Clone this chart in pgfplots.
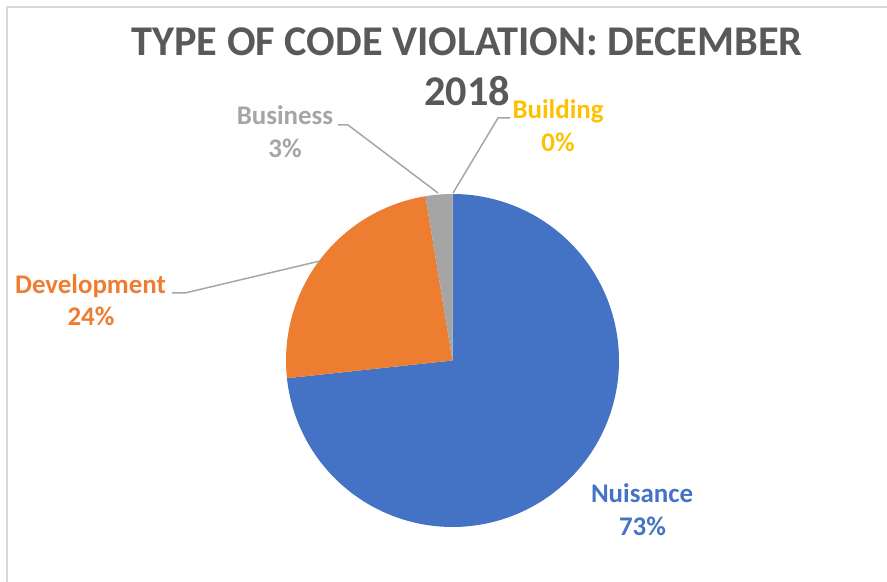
\documentclass[border=0pt]{standalone}
\usepackage{pgfplots}
\pgfplotsset{compat=1.18}
\usepackage{pgfplotstable}
\usepackage{fontspec}
\setmainfont{Carlito}
\definecolor{cNui}{HTML}{4472C4}
\definecolor{cDev}{HTML}{ED7D31}
\definecolor{cBus}{HTML}{A5A5A5}
\definecolor{cBld}{HTML}{FFC000}
\definecolor{cTitle}{HTML}{595959}
\definecolor{cLead}{HTML}{A6A6A6}
\definecolor{cFrame}{HTML}{D9D9D9}

\pgfplotstableread{
category share
Nuisance 73.3
Development 24.1
Business 2.6
Building 0
}\piedata

\begin{document}
\begin{tikzpicture}[x=1bp,y=1bp]
\pgfplotstablegetelem{0}{share}\of\piedata \let\sA\pgfplotsretval
\pgfplotstablegetelem{1}{share}\of\piedata \let\sB\pgfplotsretval
\pgfplotstablegetelem{2}{share}\of\piedata \let\sC\pgfplotsretval
\pgfmathsetmacro\aZero{90}
\pgfmathsetmacro\aOne{90-3.6*\sA}
\pgfmathsetmacro\aTwo{\aOne-3.6*\sB}
\pgfmathsetmacro\aThree{\aTwo-3.6*\sC}
\useasboundingbox (0,0) rectangle (887,582);
\begin{axis}[at={(0,0)}, anchor=south west, scale only axis,
  width=887bp, height=582bp, xmin=0, xmax=887, ymin=0, ymax=582,
  hide axis, clip=false]
% frame
\addplot[cFrame, line width=2bp] coordinates {(6.5,0) (6.5,574.5) (887,574.5)};
% slices (Building = 0 share draws nothing)
\addplot[draw=none, fill=cNui, domain=\aOne:\aZero, samples=150]
  ({452.5+166.5*cos(x)},{221.5+166.5*sin(x)}) -- (452.5,221.5) -- cycle;
\addplot[draw=none, fill=cDev, domain=\aTwo:\aOne, samples=80]
  ({452.5+166.5*cos(x)},{221.5+166.5*sin(x)}) -- (452.5,221.5) -- cycle;
\addplot[draw=none, fill=cBus, domain=\aThree:\aTwo, samples=20]
  ({452.5+166.5*cos(x)},{221.5+166.5*sin(x)}) -- (452.5,221.5) -- cycle;
% leader lines
\addplot[cLead, line width=1.5bp] coordinates {(338,457) (348,457) (438,389)};
\addplot[cLead, line width=1.5bp] coordinates {(510,464) (498,464) (453,389)};
\addplot[cLead, line width=1.5bp] coordinates {(172,289) (185,289) (320,321)};
% title
\node[anchor=base, text=cTitle, font=\fontsize{42.5}{50}\selectfont\bfseries] at (467,526) {TYPE OF CODE VIOLATION: DECEMBER};
\node[anchor=base, text=cTitle, font=\fontsize{42.5}{50}\selectfont\bfseries] at (467,476) {2018};
% labels
\node[anchor=base, text=cBus, font=\fontsize{27}{32}\selectfont\bfseries] at (285,457) {Business};
\node[anchor=base, text=cBus, font=\fontsize{27}{32}\selectfont\bfseries] at (285,424) {3\%};
\node[anchor=base, text=cBld, font=\fontsize{27}{32}\selectfont\bfseries] at (558,463) {Building};
\node[anchor=base, text=cBld, font=\fontsize{27}{32}\selectfont\bfseries] at (558,430) {0\%};
\node[anchor=base, text=cDev, font=\fontsize{27}{32}\selectfont\bfseries] at (90.5,288) {Development};
\node[anchor=base, text=cDev, font=\fontsize{27}{32}\selectfont\bfseries] at (91,256) {24\%};
\node[anchor=base, text=cNui, font=\fontsize{27}{32}\selectfont\bfseries] at (642,79) {Nuisance};
\node[anchor=base, text=cNui, font=\fontsize{27}{32}\selectfont\bfseries] at (642.5,46) {73\%};
\end{axis}
\end{tikzpicture}
\end{document}
